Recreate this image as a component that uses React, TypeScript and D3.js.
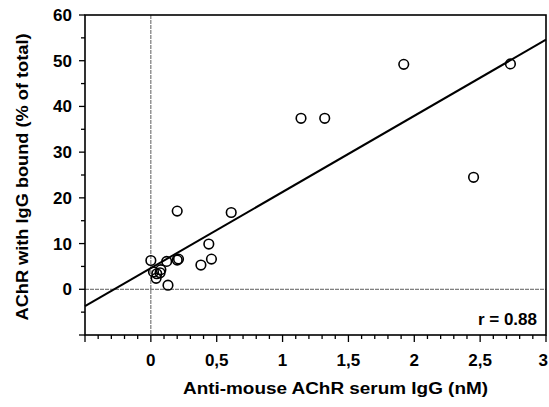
import React from "react";
import * as d3 from "d3";

const W = 549;
const H = 407;
const M = { top: 15, right: 3, bottom: 72, left: 85 };

// measured points (nM, % bound)
const igG = [0, 0.02, 0.045, 0.04, 0.076, 0.07, 0.12, 0.2, 0.21, 0.13, 0.38, 0.46, 0.44, 0.2, 0.61, 1.14, 1.32, 1.92, 2.45, 2.73];
const bound = [6.3, 3.8, 3.4, 2.4, 4.3, 3.6, 6.1, 6.4, 6.6, 0.9, 5.3, 6.6, 9.9, 17.1, 16.8, 37.4, 37.4, 49.2, 24.5, 49.3];

// fitted regression line end points
const fitX = [-0.5, 3];
const fitY = [-3.7, 54.6];

const xTicks = [0, 0.5, 1, 1.5, 2, 2.5, 3];
const xTickLabels = ["0", "0,5", "1", "1,5", "2", "2,5", "3"];
const yTicks = [0, 10, 20, 30, 40, 50, 60];

const FONT = "'Liberation Sans', Arial, Helvetica, sans-serif";

const App = () => {
  const x = d3.scaleLinear().domain([-0.5, 3]).range([M.left, W - M.right]);
  const y = d3.scaleLinear().domain([-10, 60]).range([H - M.bottom, M.top]);

  const xMinor = d3.range(-5, 31).map((d) => d / 10);
  const yMinor = d3.range(-10, 61, 5);

  const line = d3
    .line<number>()
    .x((d) => x(d))
    .y((_, i) => y(fitY[i]));

  const x0 = x(-0.5);
  const x1 = x(3);
  const yb = y(-10);
  const yt = y(60);

  return (
    <svg width={W} height={H} style={{ position: "absolute", left: 0, top: 0, background: "#fff" }}>
      {/* zero reference lines */}
      <line x1={x0} x2={x1} y1={y(0)} y2={y(0)} stroke="#333" strokeWidth={0.8} strokeDasharray="4,1" />
      <line x1={x(0)} x2={x(0)} y1={yt} y2={yb} stroke="#333" strokeWidth={0.8} strokeDasharray="4,1" />

      {/* frame */}
      <rect x={x0} y={yt} width={x1 - x0} height={yb - yt} fill="none" stroke="#000" strokeWidth={1.6} />

      {/* y ticks */}
      {yMinor.map((t) => (
        <line key={"ym" + t} x1={x0} x2={x0 - (t % 10 === 0 ? 6 : 4)} y1={y(t)} y2={y(t)} stroke="#000" strokeWidth={1.3} />
      ))}
      {yTicks.map((t) => (
        <text key={"yl" + t} x={x0 - 13} y={y(t) + 6} textAnchor="end" fontFamily={FONT} fontWeight="bold" fontSize={17}>
          {t}
        </text>
      ))}

      {/* x ticks */}
      {xMinor.map((t) => (
        <line
          key={"xm" + t}
          x1={x(t)}
          x2={x(t)}
          y1={yb}
          y2={yb + (Math.abs(t * 2 - Math.round(t * 2)) < 1e-6 ? 7 : 4)}
          stroke="#000"
          strokeWidth={1.3}
        />
      ))}
      {xTicks.map((t, i) => {
        const last = i === xTicks.length - 1;
        return (
          <text
            key={"xl" + t}
            x={last ? W - 1 : x(t)}
            y={366}
            textAnchor={last ? "end" : "middle"}
            fontFamily={FONT}
            fontWeight="bold"
            fontSize={17}
          >
            {xTickLabels[i]}
          </text>
        );
      })}

      {/* regression line */}
      <path d={line(fitX) || ""} fill="none" stroke="#000" strokeWidth={2} />

      {/* points */}
      {igG.map((v, i) => (
        <circle key={i} cx={x(v)} cy={y(bound[i])} r={4.8} fill="none" stroke="#000" strokeWidth={1.6} />
      ))}

      <text x={537} y={325} textAnchor="end" fontFamily={FONT} fontWeight="bold" fontSize={17}>
        r = 0.88
      </text>

      {/* axis titles */}
      <text
        x={183}
        y={394}
        textLength={305}
        lengthAdjust="spacingAndGlyphs"
        fontFamily={FONT}
        fontWeight="bold"
        fontSize={16}
      >
        Anti-mouse AChR serum IgG (nM)
      </text>
      <text
        transform="translate(28,177) rotate(-90)"
        textAnchor="middle"
        textLength={287}
        lengthAdjust="spacingAndGlyphs"
        fontFamily={FONT}
        fontWeight="bold"
        fontSize={17}
      >
        AChR with IgG bound (% of total)
      </text>
    </svg>
  );
};

export default App;
